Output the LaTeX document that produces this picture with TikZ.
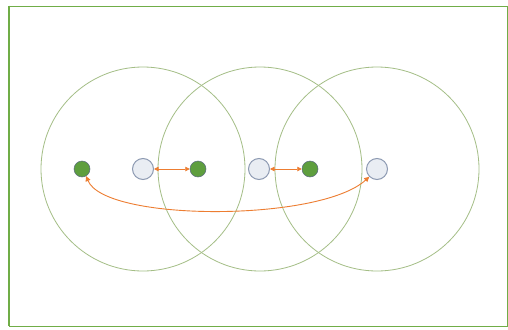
\documentclass[tikz,border=0pt]{standalone}
\usetikzlibrary{arrows.meta}
\definecolor{frame}{HTML}{70AD47}
\definecolor{ring}{HTML}{A4BE86}
\definecolor{dotgreen}{HTML}{5E9E3E}
\definecolor{dotedge}{HTML}{5A6A80}
\definecolor{grayfill}{HTML}{E9EDF3}
\definecolor{grayedge}{HTML}{8D9AB2}
\definecolor{arr}{HTML}{ED7D31}
\begin{document}
\begin{tikzpicture}[x=1pt,y=-1pt,
  ringc/.style={circle,draw=ring,line width=0.8pt,minimum size=204pt,inner sep=0pt},
  gdot/.style={circle,fill=dotgreen,draw=dotedge,line width=0.5pt,minimum size=16pt,inner sep=0pt},
  wdot/.style={circle,fill=grayfill,draw=grayedge,line width=1pt,minimum size=21pt,inner sep=0pt},
  link/.style={draw=arr,line width=0.9pt,{Triangle[length=4.5pt,width=4.5pt]}-{Triangle[length=4.5pt,width=4.5pt]}},
  onearrow/.style={draw=arr,line width=0.9pt,{Triangle[length=5pt,width=5pt]}-{Triangle[length=5pt,width=5pt]}}]
\useasboundingbox (0,0) rectangle (508,329);
\fill[white] (0,0) rectangle (508,329);
\draw[frame,line width=0.8pt] (9,6) -- (507.5,6) -- (507.5,326) -- (9,326);
\draw[frame,line width=2pt] (9,5.6) -- (9,326.4);
\node[ringc] (c1) at (143,169) {};
\node[ringc] (c2) at (260,169) {};
\node[ringc] (c3) at (377,169) {};
\node[gdot] (g1) at (82,169) {};
\node[wdot] (w1) at (143,169) {};
\node[gdot] (g2) at (198,169) {};
\node[wdot] (w2) at (259,169) {};
\node[gdot] (g3) at (310,169) {};
\node[wdot] (w3) at (377,169) {};
\draw[link] (w1) -- (g2);
\draw[link] (w2) -- (g3);
\draw[onearrow] (g1.-60) .. controls (105,222) and (320,222) .. (w3.-135);
\end{tikzpicture}
\end{document}
